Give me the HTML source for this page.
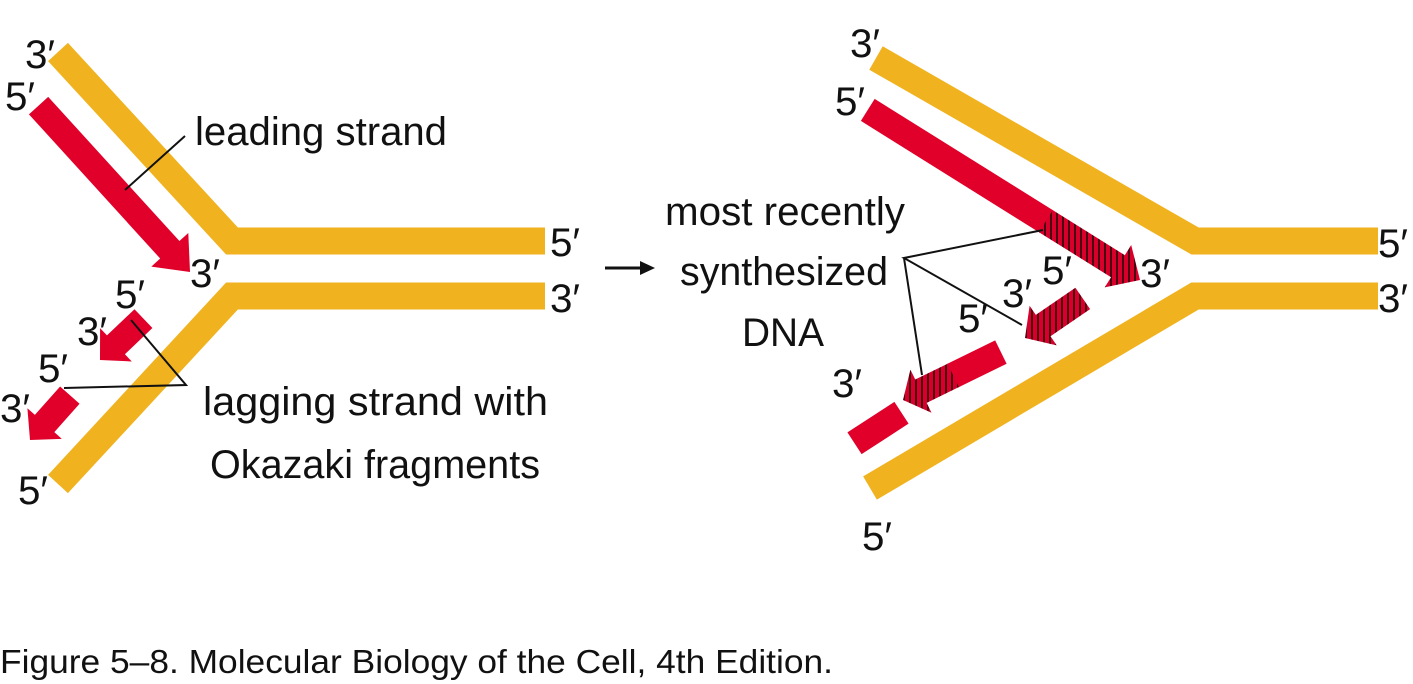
<!DOCTYPE html>
<html><head><meta charset="utf-8"><style>html,body{margin:0;padding:0;background:#fff}svg{display:block}</style></head>
<body>
<svg width="1413" height="684" viewBox="0 0 1413 684" xmlns="http://www.w3.org/2000/svg" font-family="Liberation Sans, sans-serif" fill="#111">
<defs>
<pattern id="h1" width="6" height="10" patternUnits="userSpaceOnUse" patternTransform="rotate(-32)"><rect width="6" height="10" fill="#d8002a"/><rect width="2" height="10" fill="#4a0010"/></pattern>
<pattern id="h2" width="6" height="10" patternUnits="userSpaceOnUse" patternTransform="rotate(-145.6)"><rect width="6" height="10" fill="#d8002a"/><rect width="2" height="10" fill="#4a0010"/></pattern>
<pattern id="h3" width="6" height="10" patternUnits="userSpaceOnUse" patternTransform="rotate(-153.9)"><rect width="6" height="10" fill="#d8002a"/><rect width="2" height="10" fill="#4a0010"/></pattern>
</defs>
<polyline points="58,52 232,241 545,241" fill="none" stroke="#f0b21f" stroke-width="27"/>
<polyline points="58,484 232,296 545,296" fill="none" stroke="#f0b21f" stroke-width="27"/>
<g transform="translate(190,272) rotate(47.7)" fill="#e0002a"><polygon points="-225,-13 -30,-13 -30,-25 0,0 -30,25 -30,13 -225,13"/></g>
<g transform="translate(100,360) rotate(136.4)" fill="#e0002a"><polygon points="-60,-13 -22,-13 -22,-23 0,0 -22,23 -22,13 -60,13"/></g>
<g transform="translate(30,440) rotate(131.6)" fill="#e0002a"><polygon points="-60,-13 -22,-13 -22,-23 0,0 -22,23 -22,13 -60,13"/></g>
<polyline points="125,190 185,136" fill="none" stroke="#111" stroke-width="2"/>
<polyline points="131,320 186,385 64,388" fill="none" stroke="#111" stroke-width="2"/>
<polyline points="876,58 1195,241 1378,241" fill="none" stroke="#f0b21f" stroke-width="27"/>
<polyline points="870,488 1195,296 1378,296" fill="none" stroke="#f0b21f" stroke-width="27"/>
<g transform="translate(1140,280) rotate(32)">
<polygon points="-321,-13 -110,-13 -110,13 -321,13" fill="#e0002a"/>
<polygon points="-111,-13 -26,-13 -26,-25 0,0 -26,25 -26,13 -111,13" fill="url(#h1)"/>
</g>
<g transform="translate(1025,338) rotate(145.6)"><polygon points="-70,-13 -22,-13 -22,-24 0,0 -22,24 -22,13 -70,13" fill="url(#h2)"/></g>
<g transform="translate(903,400) rotate(153.9)">
<polygon points="-109,-13 -55,-13 -55,13 -109,13" fill="#e0002a"/>
<polygon points="-56,-13 -20,-13 -20,-24 0,0 -20,24 -20,13 -56,13" fill="url(#h3)"/>
</g>
<g transform="translate(878,428) rotate(-33)"><rect x="-28" y="-13" width="56" height="26" fill="#e0002a"/></g>
<polyline points="1043,230 904,258 1022,325" fill="none" stroke="#111" stroke-width="2"/>
<polyline points="904,258 922,375" fill="none" stroke="#111" stroke-width="2"/>
<line x1="605" y1="268" x2="642" y2="268" stroke="#111" stroke-width="3"/>
<polygon points="655,268 640,261 640,275" fill="#111"/>
<g font-size="40">
<text x="25" y="68" textLength="30" lengthAdjust="spacingAndGlyphs">3′</text>
<text x="5" y="110" textLength="30" lengthAdjust="spacingAndGlyphs">5′</text>
<text x="190" y="287" textLength="30" lengthAdjust="spacingAndGlyphs">3′</text>
<text x="115" y="308" textLength="30" lengthAdjust="spacingAndGlyphs">5′</text>
<text x="77" y="345" textLength="30" lengthAdjust="spacingAndGlyphs">3′</text>
<text x="38" y="382" textLength="30" lengthAdjust="spacingAndGlyphs">5′</text>
<text x="0" y="422" textLength="30" lengthAdjust="spacingAndGlyphs">3′</text>
<text x="18" y="504" textLength="30" lengthAdjust="spacingAndGlyphs">5′</text>
<text x="550" y="256" textLength="30" lengthAdjust="spacingAndGlyphs">5′</text>
<text x="550" y="312" textLength="30" lengthAdjust="spacingAndGlyphs">3′</text>
<text x="195" y="145" textLength="252" lengthAdjust="spacingAndGlyphs">leading strand</text>
<text x="203" y="415" textLength="345" lengthAdjust="spacingAndGlyphs">lagging strand with</text>
<text x="210" y="478" textLength="330" lengthAdjust="spacingAndGlyphs">Okazaki fragments</text>
<text x="665" y="225" textLength="240" lengthAdjust="spacingAndGlyphs">most recently</text>
<text x="680" y="285" textLength="208" lengthAdjust="spacingAndGlyphs">synthesized</text>
<text x="742" y="346" textLength="82" lengthAdjust="spacingAndGlyphs">DNA</text>
<text x="850" y="57" textLength="30" lengthAdjust="spacingAndGlyphs">3′</text>
<text x="835" y="115" textLength="30" lengthAdjust="spacingAndGlyphs">5′</text>
<text x="1140" y="287" textLength="30" lengthAdjust="spacingAndGlyphs">3′</text>
<text x="1042" y="284" textLength="30" lengthAdjust="spacingAndGlyphs">5′</text>
<text x="1002" y="307" textLength="30" lengthAdjust="spacingAndGlyphs">3′</text>
<text x="958" y="332" textLength="30" lengthAdjust="spacingAndGlyphs">5′</text>
<text x="832" y="397" textLength="30" lengthAdjust="spacingAndGlyphs">3′</text>
<text x="862" y="550" textLength="30" lengthAdjust="spacingAndGlyphs">5′</text>
<text x="1378" y="257" textLength="30" lengthAdjust="spacingAndGlyphs">5′</text>
<text x="1378" y="312" textLength="30" lengthAdjust="spacingAndGlyphs">3′</text>
</g>
<text x="0" y="673" font-size="33" textLength="833" lengthAdjust="spacingAndGlyphs">Figure 5–8. Molecular Biology of the Cell, 4th Edition.</text>
</svg>
</body></html>
